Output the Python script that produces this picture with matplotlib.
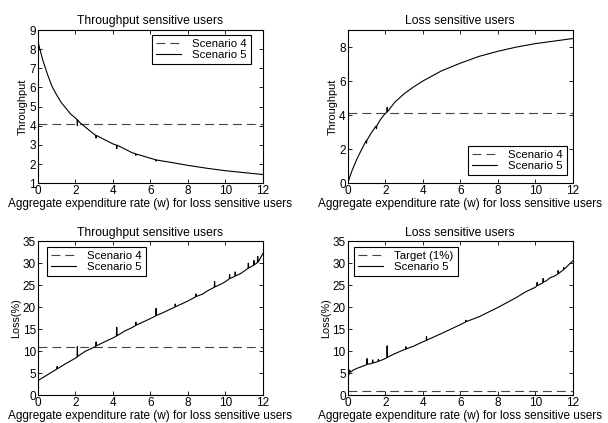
import matplotlib
matplotlib.use("Agg")
import matplotlib.pyplot as plt

plt.rcParams['font.family'] = ['Liberation Sans', 'DejaVu Sans']
plt.rcParams['font.size'] = 8.5

XLABEL = "Aggregate expenditure rate (w) for loss sensitive users"
x_ticks = [0, 2, 4, 6, 8, 10, 12]

# throughput sensitive users, throughput
tl_x = [0, 0.1, 0.25, 0.5, 0.75, 1.0, 1.25, 1.5, 1.75, 2.0, 2.08, 2.1, 2.12, 2.25,
        2.5, 2.75, 3.0, 3.08, 3.1, 3.12, 3.5, 4.0, 4.18, 4.2, 4.22, 4.5, 5.0, 5.2,
        5.22, 5.24, 5.5, 6.0, 6.28, 6.3, 6.32, 7, 8, 9, 10, 11, 12]
tl_y = [8.4, 8.0, 7.45, 6.7, 6.05, 5.6, 5.2, 4.9, 4.6, 4.4, 4.33, 4.0, 4.3, 4.15,
        3.95, 3.75, 3.55, 3.5, 3.35, 3.49, 3.3, 3.05, 2.99, 2.8, 2.98, 2.85, 2.6, 2.53,
        2.45, 2.52, 2.45, 2.3, 2.22, 2.15, 2.21, 2.1, 1.93, 1.78, 1.65, 1.55, 1.45]
tl_s4 = 4.1

# loss sensitive users, throughput
tr_x = [0, 0.1, 0.25, 0.5, 0.75, 0.98, 1.0, 1.02, 1.25, 1.5, 1.53, 1.56, 1.75, 2.0,
        2.08, 2.1, 2.12, 2.5, 3, 3.5, 4, 5, 6, 7, 8, 9, 10, 11, 12]
tr_y = [0, 0.35, 0.8, 1.45, 2.0, 2.5, 2.35, 2.52, 2.95, 3.35, 3.2, 3.4, 3.75, 4.1,
        4.15, 4.45, 4.2, 4.75, 5.25, 5.65, 6.0, 6.6, 7.05, 7.45, 7.75, 8.0, 8.2, 8.35, 8.5]
tr_s4 = 4.1

# throughput sensitive users, loss
bl_x = [0, 0.5, 1.0, 1.02, 1.04, 1.5, 2.0, 2.08, 2.1, 2.12, 2.5, 3.0, 3.08, 3.1, 3.12,
        3.5, 4.0, 4.18, 4.2, 4.22, 4.6, 5.0, 5.2, 5.22, 5.24, 5.6, 6.0, 6.28, 6.3, 6.32,
        6.6, 7.0, 7.3, 7.32, 7.34, 7.6, 8.0, 8.4, 8.42, 8.44, 8.8, 9.0, 9.4, 9.42, 9.44,
        9.8, 10.0, 10.2, 10.22, 10.24, 10.5, 10.52, 10.54, 10.8, 11.0, 11.2, 11.22, 11.24,
        11.5, 11.52, 11.54, 11.7, 11.72, 11.74, 12.0]
bl_y = [3.3, 4.6, 5.9, 6.5, 6.0, 7.2, 8.4, 8.6, 11.0, 8.8, 9.9, 10.9, 11.1, 12.1, 11.2,
        12.0, 13.0, 13.4, 15.4, 13.5, 14.5, 15.3, 15.8, 16.6, 15.9, 16.6, 17.4, 18.0, 19.7, 18.1,
        18.6, 19.4, 20.0, 20.7, 20.1, 20.6, 21.4, 22.3, 23.0, 22.4, 23.0, 23.6, 24.5, 25.8, 24.6,
        25.3, 25.8, 26.4, 27.4, 26.5, 27.0, 28.0, 27.1, 27.6, 28.2, 28.8, 30.0, 28.9,
        29.5, 30.6, 29.6, 30.1, 31.5, 30.2, 32.2]
bl_s4 = 11.0

# loss sensitive users, loss
br_x = [0, 0.03, 0.06, 0.1, 0.15, 0.3, 0.5, 0.7, 1.0, 1.03, 1.06, 1.3, 1.33, 1.36, 1.6,
        1.63, 1.66, 2.0, 2.08, 2.1, 2.12, 2.5, 3.0, 3.08, 3.1, 3.12, 3.5, 4.0, 4.18, 4.2,
        4.22, 5.0, 5.5, 6.0, 6.28, 6.3, 6.32, 7.0, 8.0, 9.0, 9.5, 10.0, 10.08, 10.1, 10.12,
        10.4, 10.42, 10.44, 10.6, 10.8, 11.0, 11.2, 11.22, 11.24, 11.5, 11.52, 11.54, 12.0]
br_y = [4.8, 5.6, 4.6, 5.7, 5.2, 5.7, 6.1, 6.4, 6.9, 8.3, 7.0, 7.2, 8.0, 7.3, 7.6,
        8.1, 7.7, 8.3, 8.5, 11.2, 8.6, 9.4, 10.3, 10.4, 11.0, 10.5, 11.1, 12.1, 12.4, 13.3,
        12.5, 14.0, 15.0, 16.0, 16.6, 17.0, 16.7, 17.8, 19.9, 22.2, 23.5, 24.5, 24.8, 25.6, 24.9,
        25.5, 26.5, 25.7, 26.0, 26.7, 27.0, 27.5, 28.3, 27.6, 28.5, 29.0, 28.6, 30.5]
br_target = 1.0

panels = [
    ([0.0625, 0.567, 0.370, 0.362], "Throughput sensitive users", "Throughput",
     tl_x, tl_y, tl_s4, "Scenario 4", (1, 9), list(range(1, 10)),
     "upper right", (0.947, 0.967)),
    ([0.572, 0.567, 0.370, 0.362], "Loss sensitive users", "Throughput",
     tr_x, tr_y, tr_s4, "Scenario 4", (0, 9), [0, 2, 4, 6, 8],
     "lower right", (0.973, 0.052)),
    ([0.0625, 0.066, 0.370, 0.364], "Throughput sensitive users", "Loss(%)",
     bl_x, bl_y, bl_s4, "Scenario 4", (0, 35), [0, 5, 10, 15, 20, 25, 30, 35],
     "upper left", (0.04, 0.961)),
    ([0.572, 0.066, 0.370, 0.364], "Loss sensitive users", "Loss(%)",
     br_x, br_y, br_target, "Target (1%)", (0, 35), [0, 5, 10, 15, 20, 25, 30, 35],
     "upper left", (0.027, 0.961)),
]

fig = plt.figure(figsize=(6.08, 4.23), dpi=100)

for rect, title, ylabel, xs, ys, level, dash_label, ylim, yticks, loc, anchor in panels:
    ax = fig.add_axes(rect)
    ax.plot([0, 12], [level, level], linestyle=(0, (8, 4.5)), color='#444444', lw=0.8,
            label=dash_label)
    ax.plot(xs, ys, color='black', lw=0.8, label="Scenario 5")
    ax.set_xlim(0, 12)
    ax.set_ylim(*ylim)
    ax.set_xticks(x_ticks)
    ax.set_yticks(yticks)
    ax.tick_params(direction='in', length=3, width=0.6, top=True, right=True, pad=1.5)
    for s in ax.spines.values():
        s.set_linewidth(0.8)
    ax.set_title(title, fontsize=8.7, pad=4)
    ax.set_xlabel(XLABEL, fontsize=8.5, labelpad=0.5)
    ax.set_ylabel(ylabel, fontsize=7.8, labelpad=1)
    leg = ax.legend(loc=loc, bbox_to_anchor=anchor, borderaxespad=0, fontsize=8.2,
                    fancybox=False, framealpha=1, edgecolor='black',
                    handlelength=2.2, handletextpad=1.0, borderpad=0.35, labelspacing=0.1)
    leg.get_frame().set_linewidth(0.8)

fig.savefig("out.png", dpi=100)
